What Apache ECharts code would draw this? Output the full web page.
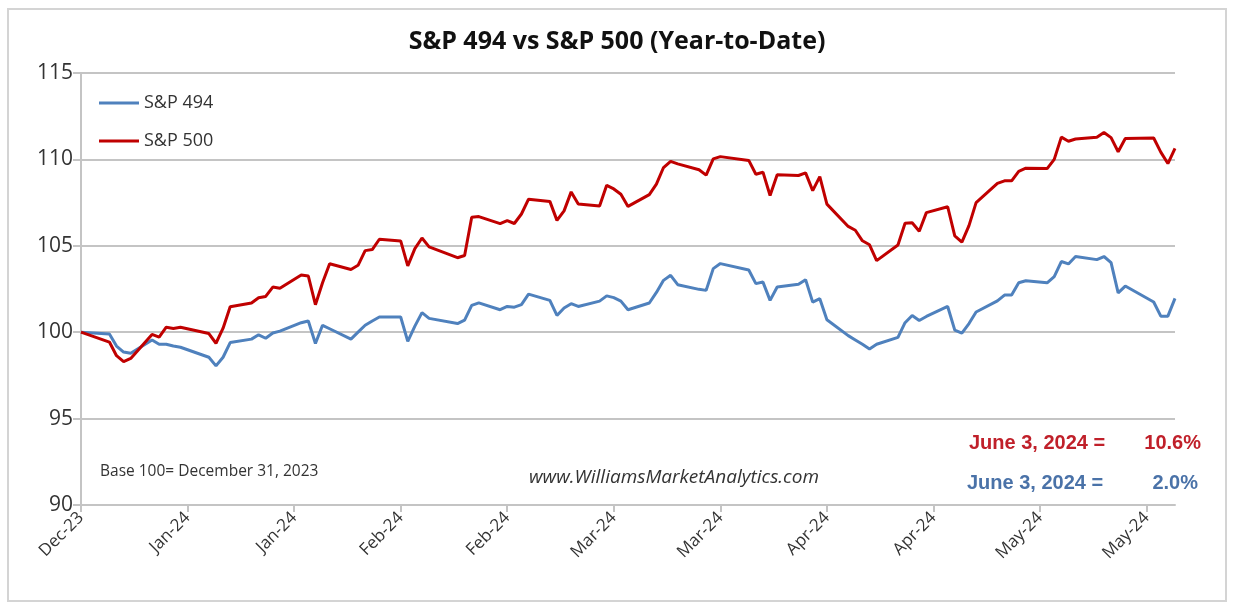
<!DOCTYPE html>
<html>
<head>
<meta charset="utf-8">
<script src="https://cdn.jsdelivr.net/npm/echarts@6/dist/echarts.min.js"></script>
<style>
html,body{margin:0;padding:0;background:#fff;}
#chart{width:1235px;height:607px;}
</style>
</head>
<body>
<div id="chart"></div>
<script>
// Trading dates (base = last close of 2023)
const dates = [
'2023-12-29',
'2024-01-02','2024-01-03','2024-01-04','2024-01-05',
'2024-01-08','2024-01-09','2024-01-10','2024-01-11','2024-01-12',
'2024-01-16','2024-01-17','2024-01-18','2024-01-19',
'2024-01-22','2024-01-23','2024-01-24','2024-01-25','2024-01-26',
'2024-01-29','2024-01-30','2024-01-31','2024-02-01','2024-02-02',
'2024-02-05','2024-02-06','2024-02-07','2024-02-08','2024-02-09',
'2024-02-12','2024-02-13','2024-02-14','2024-02-15','2024-02-16',
'2024-02-20','2024-02-21','2024-02-22','2024-02-23',
'2024-02-26','2024-02-27','2024-02-28','2024-02-29','2024-03-01',
'2024-03-04','2024-03-05','2024-03-06','2024-03-07','2024-03-08',
'2024-03-11','2024-03-12','2024-03-13','2024-03-14','2024-03-15',
'2024-03-18','2024-03-19','2024-03-20','2024-03-21','2024-03-22',
'2024-03-25','2024-03-26','2024-03-27','2024-03-28',
'2024-04-01','2024-04-02','2024-04-03','2024-04-04','2024-04-05',
'2024-04-08','2024-04-09','2024-04-10','2024-04-11','2024-04-12',
'2024-04-15','2024-04-16','2024-04-17','2024-04-18','2024-04-19',
'2024-04-22','2024-04-23','2024-04-24','2024-04-25','2024-04-26',
'2024-04-29','2024-04-30','2024-05-01','2024-05-02','2024-05-03',
'2024-05-06','2024-05-07','2024-05-08','2024-05-09','2024-05-10',
'2024-05-13','2024-05-14','2024-05-15','2024-05-16','2024-05-17',
'2024-05-20','2024-05-21','2024-05-22','2024-05-23','2024-05-24',
'2024-05-28','2024-05-29','2024-05-30','2024-05-31'
];

const sp500 = [
100,
99.43,98.64,98.30,98.48,
99.87,99.72,100.29,100.22,100.29,
99.92,99.36,100.23,101.47,
101.69,101.99,102.07,102.61,102.54,
103.31,103.25,101.59,102.86,103.96,
103.63,103.87,104.72,104.78,105.38,
105.28,103.84,104.84,105.45,104.94,
104.31,104.44,106.65,106.69,
106.28,106.46,106.29,106.84,107.70,
107.57,106.47,107.02,108.12,107.42,
107.30,108.50,108.29,107.98,107.28,
107.96,108.57,109.53,109.89,109.74,
109.40,109.09,110.03,110.16,
109.94,109.14,109.26,107.91,109.11,
109.07,109.22,108.19,109.00,107.41,
106.12,105.90,105.29,105.06,104.14,
105.05,106.30,106.33,105.84,106.92,
107.26,105.57,105.21,106.17,107.50,
108.61,108.76,108.76,109.31,109.49,
109.47,110.00,111.29,111.05,111.18,
111.28,111.56,111.26,110.44,111.21,
111.24,110.42,109.76,110.64
];

const sp494 = [
100,
99.9,99.2,98.85,98.78,
99.55,99.3,99.3,99.2,99.13,
98.55,98.05,98.55,99.4,
99.6,99.85,99.65,99.95,100.06,
100.55,100.65,99.35,100.4,100.2,
99.6,100.0,100.4,100.65,100.88,
100.88,99.47,100.35,101.13,100.8,
100.5,100.7,101.55,101.7,
101.3,101.49,101.45,101.6,102.2,
101.84,100.97,101.4,101.65,101.49,
101.8,102.1,102.0,101.8,101.3,
101.69,102.3,103.0,103.29,102.75,
102.48,102.42,103.68,103.97,
103.6,102.81,102.9,101.84,102.62,
102.77,103.04,101.74,101.94,100.72,
99.8,99.55,99.3,99.03,99.3,
99.7,100.55,100.97,100.68,100.91,
101.49,100.12,99.94,100.5,101.17,
101.81,102.15,102.15,102.86,102.98,
102.86,103.21,104.09,103.95,104.38,
104.2,104.38,104.03,102.28,102.67,
101.75,100.93,100.93,101.96
];

const tickLabels = ['Dec-23','Jan-24','Jan-24','Feb-24','Feb-24','Mar-24','Mar-24','Apr-24','Apr-24','May-24','May-24'];
const tickStepDays = 15;
const yTicks = [90, 95, 100, 105, 110, 115];

const seriesNames = ['S&P 494', 'S&P 500'];
const titleText = 'S&P 494 vs S&P 500 (Year-to-Date)';
const noteText = 'Base 100= December 31, 2023';
const siteText = 'www.WilliamsMarketAnalytics.com';
const endLabel = 'June 3, 2024 =';
const endRed = '10.6%';
const endBlue = '2.0%';

const baseMs = Date.UTC(2023, 11, 29);
function dayOffset(s) {
  const p = s.split('-').map(Number);
  return Math.round((Date.UTC(p[0], p[1] - 1, p[2]) - baseMs) / 86400000);
}
const xs = dates.map(dayOffset);
const d494 = xs.map((x, i) => [x, sp494[i]]);
const d500 = xs.map((x, i) => [x, sp500[i]]);
const xTickValues = tickLabels.map((_, i) => i * tickStepDays);

const FONT = "'Open Sans', 'Liberation Sans', sans-serif";
const NARROW = "'Liberation Sans Narrow', 'Liberation Sans', sans-serif";
const gridColor = '#c4c4c4';

const chart = echarts.init(document.getElementById('chart'));
chart.setOption({
  animation: false,
  backgroundColor: '#ffffff',
  grid: { left: 81, right: 60, top: 73, bottom: 102, containLabel: false },
  legend: {
    orient: 'vertical',
    left: 94, top: 89,
    itemWidth: 40, itemHeight: 3, itemGap: 20, itemTextGap: 4,
    textStyle: { fontFamily: FONT, fontSize: 18, color: '#333333' },
    data: seriesNames.map(n => ({ name: n, icon: 'rect' }))
  },
  xAxis: {
    type: 'value',
    min: 0, max: 154, interval: tickStepDays,
    axisLine: { show: true, lineStyle: { color: gridColor, width: 2 } },
    axisTick: { show: true, length: 7, customValues: xTickValues, lineStyle: { color: gridColor, width: 2 } },
    splitLine: { show: false },
    axisLabel: {
      rotate: 45, margin: 10,
      customValues: xTickValues,
      fontFamily: FONT, fontSize: 17, color: '#333333',
      formatter: function (v) { return v % tickStepDays === 0 ? (tickLabels[v / tickStepDays] || '') : ''; }
    }
  },
  yAxis: {
    type: 'value',
    min: yTicks[0], max: yTicks[yTicks.length - 1], interval: 5,
    axisLine: { show: true, lineStyle: { color: gridColor, width: 2 } },
    axisTick: { show: true, length: 8, lineStyle: { color: gridColor, width: 2 } },
    splitLine: { show: true, lineStyle: { color: gridColor, width: 2 } },
    axisLabel: { margin: 8, fontFamily: FONT, fontSize: 21, color: '#333333' }
  },
  series: [
    { name: seriesNames[0], type: 'line', data: d494, symbol: 'none', z: 3,
      lineStyle: { color: '#4f81bd', width: 3 }, itemStyle: { color: '#4f81bd' } },
    { name: seriesNames[1], type: 'line', data: d500, symbol: 'none', z: 4,
      lineStyle: { color: '#c00000', width: 3 }, itemStyle: { color: '#c00000' } }
  ],
  graphic: [
    { type: 'rect', z: -10, silent: true,
      shape: { x: 8, y: 9, width: 1218, height: 592 },
      style: { fill: 'none', stroke: '#d4d4d4', lineWidth: 2 } },
    { type: 'text', x: 617, y: 42,
      style: { text: titleText, fontFamily: FONT, fontWeight: 'bold', fontSize: 25, fill: '#111111', align: 'center', verticalAlign: 'middle' } },
    { type: 'text', x: 100, y: 472,
      style: { text: noteText, fontFamily: FONT, fontSize: 15.5, fill: '#333333', align: 'left', verticalAlign: 'middle' } },
    { type: 'text', x: 529, y: 478,
      style: { text: siteText, fontFamily: FONT, fontStyle: 'italic', fontSize: 19, fill: '#333333', align: 'left', verticalAlign: 'middle' } },
    { type: 'text', x: 969, y: 443,
      style: { text: endLabel, fontFamily: NARROW, fontWeight: 'bold', fontSize: 20, fill: '#c0202a', align: 'left', verticalAlign: 'middle' } },
    { type: 'text', x: 1201, y: 443,
      style: { text: endRed, fontFamily: NARROW, fontWeight: 'bold', fontSize: 20, fill: '#c0202a', align: 'right', verticalAlign: 'middle' } },
    { type: 'text', x: 967, y: 483,
      style: { text: endLabel, fontFamily: NARROW, fontWeight: 'bold', fontSize: 20, fill: '#4a72a8', align: 'left', verticalAlign: 'middle' } },
    { type: 'text', x: 1198, y: 483,
      style: { text: endBlue, fontFamily: NARROW, fontWeight: 'bold', fontSize: 20, fill: '#4a72a8', align: 'right', verticalAlign: 'middle' } }
  ]
});
</script>
</body>
</html>
